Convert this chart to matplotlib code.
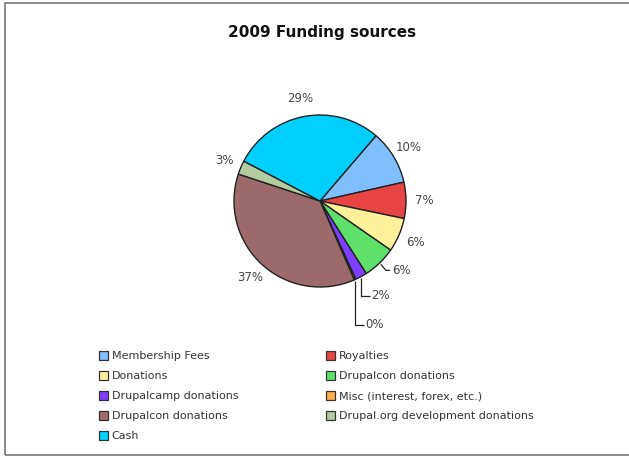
import numpy as np
import matplotlib
matplotlib.use("Agg")
import matplotlib.pyplot as plt
from matplotlib.patches import Patch, Rectangle

categories = ["Membership Fees", "Royalties", "Donations", "Drupalcon donations",
              "Drupalcamp donations", "Misc (interest, forex, etc.)", "Drupalcon donations",
              "Drupal.org development donations", "Cash"]
values = [10.2, 6.8, 6.4, 6.3, 2.2, 0.3, 36.6, 2.6, 28.6]
labels = ["10%", "7%", "6%", "6%", "2%", "0%", "37%", "3%", "29%"]
colors = ["#80BFFF", "#E84444", "#FFF09A", "#5EE06A", "#7F3FFF", "#FFB04C",
          "#9C6A6A", "#B2CCA0", "#00D0FF"]

W, H = 629, 459
fig = plt.figure(figsize=(W / 100, H / 100), dpi=100)
fig.patch.set_facecolor("white")

# border
fig.patches.append(Rectangle((5 / W, 4 / H), 1.2, (H - 7) / H, transform=fig.transFigure,
                             fill=False, edgecolor="#777777", linewidth=1.2))

fig.text(322 / W, 1 - 33 / H, "2009 Funding sources", ha="center", va="center",
         fontsize=11, fontweight="bold", color="#111111")

cx, cy, r = 320, 201, 86
ax = fig.add_axes([(cx - r) / W, (H - cy - r) / H, 2 * r / W, 2 * r / H])

start = 49.4
wedges, _ = ax.pie(values, colors=colors, startangle=start, counterclock=False,
                   radius=1.0, wedgeprops=dict(edgecolor="#222222", linewidth=1.0),
                   frame=False)
ax.set_xlim(-1, 1)
ax.set_ylim(-1, 1)
ax.set_aspect("equal")
ax.axis("off")

txt_kw = dict(fontsize=8.5, color="#444444", va="center")
line_kw = dict(color="#222222", lw=0.9, clip_on=False, solid_capstyle="butt")
for i, (w, lab) in enumerate(zip(wedges, labels)):
    mid = np.deg2rad((w.theta1 + w.theta2) / 2)
    ex, ey = np.cos(mid), np.sin(mid)
    if i == 3:
        # short diagonal stub then horizontal
        p0 = (ex * 1.02, ey * 1.02)
        p1 = (p0[0] + 0.06, p0[1] - 0.07)
        p2 = (p1[0] + 0.05, p1[1])
        ax.plot([p0[0], p1[0], p2[0]], [p0[1], p1[1], p2[1]], **line_kw)
        ax.text(p2[0] + 0.02, p2[1], lab, ha="left", clip_on=False, **txt_kw)
    elif i in (4, 5):
        ylab = -1.10 if i == 4 else -1.44
        x0 = ex * 1.0
        ax.plot([x0, x0, x0 + 0.1], [ey * 1.02, ylab, ylab], **line_kw)
        ax.text(x0 + 0.12, ylab, lab, ha="left", clip_on=False, **txt_kw)
    else:
        rr = 1.21
        ax.text(ex * rr, ey * rr, lab, ha="center", clip_on=False, **txt_kw)

handles = [Patch(facecolor=c, edgecolor="#333333", linewidth=0.9) for c in colors]
left_idx = [0, 2, 4, 6, 8]
right_idx = [1, 3, 5, 7]
leg_kw = dict(frameon=False, fontsize=8, handlelength=0.85, handleheight=0.85,
              handletextpad=0.3, labelspacing=0.88, borderaxespad=0, borderpad=0,
              labelcolor="#333333")
fig.legend([handles[i] for i in left_idx], [categories[i] for i in left_idx],
           loc="upper left", bbox_to_anchor=(99 / W, 1 - 351 / H), **leg_kw)
fig.legend([handles[i] for i in right_idx], [categories[i] for i in right_idx],
           loc="upper left", bbox_to_anchor=(326 / W, 1 - 351 / H), **leg_kw)

fig.savefig("out.png", dpi=100)
